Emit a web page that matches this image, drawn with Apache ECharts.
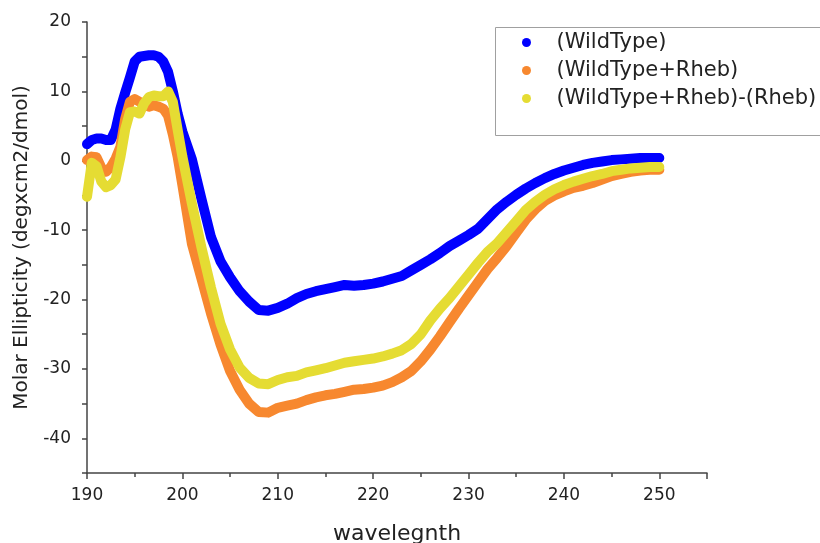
<!DOCTYPE html>
<html>
<head>
<meta charset="utf-8">
<title>CD spectra</title>
<script src="https://cdn.jsdelivr.net/npm/echarts@6/dist/echarts.min.js"></script>
<style>
  html, body { margin: 0; padding: 0; background: #fff; }
  #chart { width: 820px; height: 543px; }
</style>
</head>
<body>
<div id="chart"></div>
<script>
// wavelength (nm): 0.5 nm steps up to 200, then 1 nm
var wavelength = [
  190, 190.5, 191, 191.5, 192, 192.5, 193, 193.5, 194, 194.5, 195, 195.5, 196, 196.5, 197, 197.5, 198, 198.5, 199, 199.5, 200,
  201, 202, 203, 204, 205, 206, 207, 208, 209, 210,
  211, 212, 213, 214, 215, 216, 217, 218, 219, 220,
  221, 222, 223, 224, 225, 226, 227, 228, 229, 230,
  231, 232, 233, 234, 235, 236, 237, 238, 239, 240,
  241, 242, 243, 244, 245, 246, 247, 248, 249, 250
];

var wildType = [
  2.4, 3.0, 3.2, 3.2, 3.0, 3.0, 4.5, 7.5, 9.8, 12.0, 14.3, 15.0, 15.1, 15.2, 15.2, 15.0, 14.3, 12.8, 10.0, 6.8, 4.2,
  0.2, -5.5, -11.0, -14.5, -16.8, -18.8, -20.3, -21.5, -21.6, -21.2,
  -20.6, -19.8, -19.2, -18.8, -18.5, -18.2, -17.9, -18.0, -17.9, -17.7,
  -17.4, -17.0, -16.6, -15.8, -15.0, -14.2, -13.3, -12.3, -11.5, -10.7,
  -9.8, -8.4, -7.0, -5.9, -4.9, -4.0, -3.2, -2.5, -1.9, -1.4,
  -1.0, -0.6, -0.3, -0.1, 0.1, 0.2, 0.3, 0.4, 0.4, 0.4
];

var wildTypeRheb = [
  0.1, 0.6, 0.5, -1.0, -1.6, -0.9, 0.3, 2.0, 6.0, 8.5, 8.9, 8.5, 8.1, 7.8, 8.0, 7.8, 7.5, 6.5, 3.8, 0.6, -3.5,
  -12.0, -17.0, -22.0, -26.5, -30.3, -33.0, -35.0, -36.2, -36.3, -35.6,
  -35.3, -35.0, -34.5, -34.1, -33.8, -33.6, -33.3, -33.0, -32.9, -32.7,
  -32.4, -31.9, -31.2, -30.3, -28.9, -27.2, -25.3, -23.3, -21.3, -19.4,
  -17.5, -15.6, -14.0, -12.3, -10.4, -8.5, -7.0, -5.8, -5.0, -4.4,
  -3.9, -3.6, -3.2, -2.7, -2.2, -1.9, -1.6, -1.4, -1.3, -1.3
];

var wildTypeRhebMinusRheb = [
  -5.2, -0.3, -0.8, -3.0, -3.8, -3.5, -2.7, 0.5, 4.5, 7.0, 7.1, 6.8, 8.3, 9.2, 9.4, 9.3, 9.3, 10.0, 8.5, 4.5, 0.6,
  -6.2, -12.5, -18.3, -23.5, -27.2, -29.8, -31.3, -32.1, -32.2, -31.6,
  -31.2, -31.0, -30.5, -30.2, -29.9, -29.5, -29.1, -28.9, -28.7, -28.5,
  -28.2, -27.8, -27.3, -26.4, -25.0, -23.0, -21.3, -19.8, -18.1, -16.4,
  -14.7, -13.1, -11.9, -10.3, -8.7, -7.1, -5.9, -4.9, -4.1, -3.5,
  -3.0, -2.6, -2.2, -1.9, -1.5, -1.3, -1.1, -1.0, -0.9, -0.9
];

var seriesNames = ['(WildType)', '(WildType+Rheb)', '(WildType+Rheb)-(Rheb)'];
var seriesColors = ['#0000ff', '#f7882f', '#e5dc33'];
var seriesValues = [wildType, wildTypeRheb, wildTypeRhebMinusRheb];

var font = 'DejaVu Sans';
var axisColor = '#444';

function pairs(values) {
  return wavelength.map(function (w, i) { return [w, values[i]]; });
}

var chart = echarts.init(document.getElementById('chart'));

chart.setOption({
  animation: false,
  grid: { left: 87, right: 113, top: 22, bottom: 70, outerBoundsMode: 'none' },
  // legend frame runs off the right edge, as in the original
  graphic: [{
    type: 'rect',
    left: 493,
    top: 25,
    shape: { width: 360, height: 108 },
    style: { fill: 'none', stroke: '#a0a0a0', lineWidth: 1 }
  }],
  legend: {
    orient: 'vertical',
    left: 493,
    top: 25,
    padding: [7, 10, 28, 29],
    itemWidth: 50,
    itemHeight: 9,
    itemGap: 7,
    icon: 'circle',
    textStyle: { fontFamily: font, fontSize: 21, lineHeight: 20, color: '#222' },
    data: seriesNames
  },
  xAxis: {
    type: 'value',
    min: 190,
    max: 255,
    interval: 10,
    name: 'wavelegnth',
    nameLocation: 'middle',
    nameGap: 50,
    nameTextStyle: { fontFamily: font, fontSize: 22, color: '#222' },
    splitLine: { show: false },
    axisLine: { onZero: false, lineStyle: { color: axisColor, width: 1.5 } },
    axisTick: { length: 6, lineStyle: { color: axisColor, width: 1.5 } },
    minorTick: { show: true, splitNumber: 2, length: 4, lineStyle: { color: axisColor, width: 1.5 } },
    axisLabel: {
      margin: 14,
      fontFamily: font,
      fontSize: 17,
      color: '#222',
      formatter: function (v) { return v > 250 ? '' : v; }
    }
  },
  yAxis: {
    type: 'value',
    min: -45,
    max: 20,
    interval: 5,
    name: 'Molar Ellipticity (degxcm2/dmol)',
    nameLocation: 'middle',
    nameGap: 55,
    nameTextStyle: { fontFamily: font, fontSize: 20, color: '#222' },
    splitLine: { show: false },
    axisLine: { show: true, onZero: false, lineStyle: { color: axisColor, width: 1.5 } },
    axisTick: { show: true, length: 5, lineStyle: { color: axisColor, width: 1.5 } },
    axisLabel: {
      margin: 16,
      fontFamily: font,
      fontSize: 17,
      color: '#222',
      formatter: function (v) { return v % 10 === 0 ? v : ''; }
    }
  },
  series: seriesNames.map(function (name, i) {
    return {
      name: name,
      type: 'line',
      data: pairs(seriesValues[i]),
      showSymbol: false,
      symbol: 'circle',
      color: seriesColors[i],
      lineStyle: { width: 10, color: seriesColors[i], cap: 'round', join: 'round' },
      z: 2 + i
    };
  })
});
</script>
</body>
</html>
